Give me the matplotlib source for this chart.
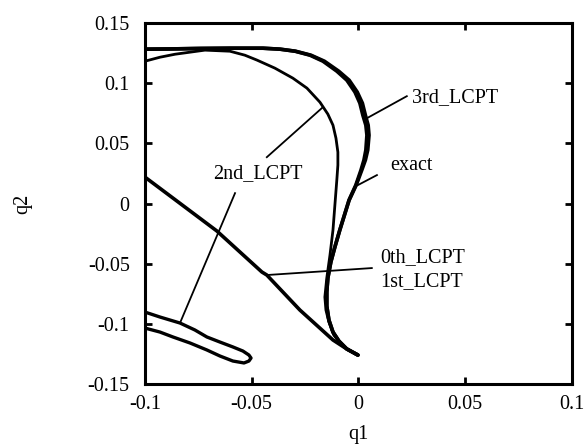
import numpy as np
import matplotlib
matplotlib.use('Agg')
import matplotlib.pyplot as plt

# trajectories (q1, q2)
exact_q1 = [-0.1, -0.0883, -0.0742, -0.0602, -0.0447, -0.0368, -0.0297, -0.0227, -0.0166, -0.0101,
            -0.0054, -0.0016, 0.0007, 0.0021, 0.0035, 0.0040, 0.0035, 0.0026, 0.0012, -0.0012,
            -0.0044, -0.0087, -0.0110, -0.0129, -0.0143, -0.0148, -0.0148, -0.0138, -0.0119, -0.0091,
            -0.0054, -0.0002]
exact_q2 = [0.1284, 0.1286, 0.1290, 0.1292, 0.1292, 0.1284, 0.1267, 0.1234, 0.1184, 0.1101,
            0.1026, 0.0927, 0.0835, 0.0735, 0.0652, 0.0569, 0.0445, 0.0362, 0.0278, 0.0154,
            0.0029, -0.0220, -0.0361, -0.0486, -0.0619, -0.0735, -0.0852, -0.0968, -0.1068, -0.1143,
            -0.1209, -0.1259]

lcpt3_q1 = [-0.1, -0.0883, -0.0742, -0.0602, -0.0447, -0.0366, -0.0294, -0.0222, -0.0159, -0.0092,
            -0.0043, -0.0005, 0.0019, 0.0033, 0.0046, 0.0050, 0.0044, 0.0033, 0.0016, -0.0010,
            -0.0043, -0.0087, -0.0110, -0.0129, -0.0143, -0.0148, -0.0148, -0.0138, -0.0119, -0.0091,
            -0.0054, -0.0002]
lcpt3_q2 = exact_q2

lcpt2_q1 = [-0.1, -0.0930, -0.0859, -0.0789, -0.0719, -0.0602, -0.0532, -0.0475, -0.0391, -0.0307,
            -0.0241, -0.0180, -0.0143, -0.0119, -0.0105, -0.0096, -0.0096, -0.0101, -0.0110, -0.0119,
            -0.0133, -0.0148, -0.0157, -0.0152, -0.0138, -0.0115, -0.0073, -0.0007]
lcpt2_q2 = [0.1184, 0.1217, 0.1242, 0.1259, 0.1276, 0.1267, 0.1234, 0.1193, 0.1126, 0.1043,
            0.0960, 0.0843, 0.0744, 0.0652, 0.0544, 0.0428, 0.0320, 0.0195, -0.0012, -0.0220,
            -0.0428, -0.0619, -0.0777, -0.0885, -0.0985, -0.1093, -0.1184, -0.1259]

# second branch of 2nd_LCPT (narrow loop bottom left)
loop_q1 = [-0.1023, -0.1, -0.0930, -0.0836, -0.0766, -0.0710, -0.0649, -0.0588, -0.0541, -0.0513,
           -0.0503, -0.0513, -0.0536, -0.0588, -0.0649, -0.0710, -0.0789, -0.0869, -0.0930, -0.1,
           -0.1023]
loop_q2 = [-0.0885, -0.0902, -0.0943, -0.0993, -0.1051, -0.1109, -0.1151, -0.1192, -0.1226, -0.1259,
           -0.1284, -0.1309, -0.1325, -0.1309, -0.1267, -0.1217, -0.1159, -0.1109, -0.1068, -0.1035,
           -0.1018]

lcpt01_q1 = [-0.103, -0.1, -0.0869, -0.0766, -0.0663, -0.0452, -0.0429, -0.0274, -0.0119, -0.0054,
             -0.0002]
lcpt01_q2 = [0.0245, 0.0220, 0.0046, -0.0091, -0.0228, -0.0569, -0.0594, -0.0885, -0.1134, -0.1209,
             -0.1259]

ticks_x = [-0.1, -0.05, 0, 0.05, 0.1]
ticks_y = [-0.15, -0.1, -0.05, 0, 0.05, 0.1, 0.15]
xlabels = ['-0.1', '-0.05', '0', '0.05', '0.1']
ylabels = ['-0.15', '-0.1', '-0.05', '0', '0.05', '0.1', '0.15']

plt.rcParams['font.family'] = ['Liberation Serif', 'DejaVu Serif']

fig = plt.figure(figsize=(5.87, 4.46), dpi=100)
ax = fig.add_axes([0.247, 0.139, 0.727, 0.809])

kw = dict(color='black', solid_joinstyle='round', solid_capstyle='round')
ax.plot(exact_q1, exact_q2, lw=2.6, **kw)
ax.plot(lcpt3_q1, lcpt3_q2, lw=2.6, **kw)
ax.plot(lcpt2_q1, lcpt2_q2, lw=2.0, **kw)
ax.plot(loop_q1, loop_q2, lw=2.4, **kw)
ax.plot(lcpt01_q1, lcpt01_q2, lw=2.6, **kw)

ax.set_xlim(-0.1, 0.1)
ax.set_ylim(-0.15, 0.15)
ax.set_xticks(ticks_x)
ax.set_yticks(ticks_y)
ax.set_xticklabels(xlabels)
ax.set_yticklabels(ylabels)
ax.tick_params(direction='in', length=5, width=2, top=True, right=True, labelsize=14.5)
ax.tick_params(axis='x', pad=8)
ax.tick_params(axis='y', pad=11)
for s in ax.spines.values():
    s.set_linewidth(2.2)

ax.set_xlabel('q1', fontsize=14.5, labelpad=8)
ax.set_ylabel('q2', fontsize=14.5, labelpad=40)

# annotations
fs = 14.5
ax.text(0.0251, 0.0885, '3rd_LCPT', fontsize=fs, va='center', ha='left')
ax.plot([0.0040, 0.0227], [0.0710, 0.0893], color='black', lw=1.3)

ax.text(0.0148, 0.0320, 'exact', fontsize=fs, va='center', ha='left')
ax.plot([-0.0002, 0.0087], [0.0154, 0.0237], color='black', lw=1.3)

ax.text(-0.0681, 0.0253, '2nd_LCPT', fontsize=fs, va='center', ha='left')
ax.plot([-0.0429, -0.0166], [0.0386, 0.0802], color='black', lw=1.3)
ax.plot([-0.0578, -0.0836], [0.0087, -0.0993], color='black', lw=1.3)

ax.text(0.0101, -0.0453, '0th_LCPT', fontsize=fs, va='center', ha='left')
ax.text(0.0101, -0.0652, '1st_LCPT', fontsize=fs, va='center', ha='left')
ax.plot([-0.0429, 0.0063], [-0.0594, -0.0536], color='black', lw=1.3)

fig.savefig('out.png', dpi=100)
